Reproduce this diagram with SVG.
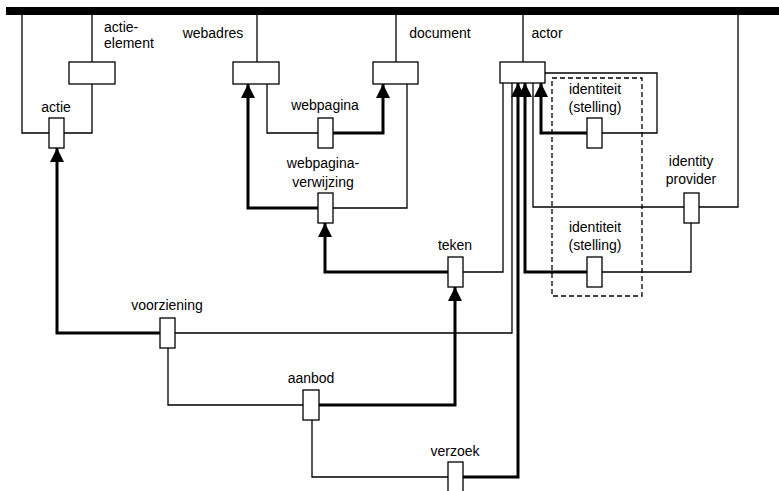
<svg xmlns="http://www.w3.org/2000/svg" width="779" height="491" viewBox="0 0 779 491">
<style>
.t{font-family:"Liberation Sans",Arial,sans-serif;font-size:14px;fill:#000}
.m{text-anchor:middle}
.thin{fill:none;stroke:#000;stroke-width:1.3}
.thick{fill:none;stroke:#000;stroke-width:3}
.arr{marker-end:url(#ah)}
.box{fill:#fff;stroke:#000;stroke-width:1.3}
.dash{fill:none;stroke:#000;stroke-width:1.3;stroke-dasharray:5 3}
</style>
<defs>
<marker id="ah" viewBox="0 0 14 14" refX="14" refY="7" markerWidth="14" markerHeight="14" markerUnits="userSpaceOnUse" orient="auto"><path d="M0,0 L14,7 L0,14 z" fill="#000"/></marker>
</defs>
<rect x="0" y="0" width="779" height="491" fill="#fff"/>
<g id="connectors">
<path class="thin" d="M22,15 V133 H92 V84"/>
<path class="thin" d="M92,15 V62"/>
<path class="thin" d="M257,15 V62"/>
<path class="thin" d="M396,15 V62"/>
<path class="thin" d="M523,15 V62"/>
<path class="thin" d="M738,15 V207 H533 V83"/>
<path class="thin" d="M267,84 V133 H318"/>
<path class="thick arr" d="M333,133 H383 V84"/>
<path class="thin" d="M333,208 H407 V84"/>
<path class="thick arr" d="M318,208 H248 V84"/>
<path class="thick arr" d="M448,272 H325 V223"/>
<path class="thin" d="M463,272 H503 V83"/>
<path class="thin" d="M545,73 H657 V133 H602"/>
<path class="thick arr" d="M587,133 H541 V83"/>
<path class="thick arr" d="M587,272 H525 V83"/>
<path class="thin" d="M602,272 H691 V223"/>
<path class="thick arr" d="M160,333 H57 V148"/>
<path class="thin" d="M175,333 H512 V83"/>
<path class="thin" d="M168,348 V405 H303"/>
<path class="thick arr" d="M319,405 H455 V287"/>
<path class="thin" d="M312,420 V477 H448"/>
<path class="thick arr" d="M463,477 H518 V83"/>
</g>
<rect id="bar" x="6" y="7" width="773" height="8" fill="#000"/>
<rect class="dash" x="552" y="78" width="90" height="218"/>
<g id="actie-element"><rect class="box" x="69" y="62" width="46" height="22"/><text class="t" x="104" y="32">actie-</text><text class="t" x="104" y="48">element</text></g>
<g id="actie"><rect class="box" x="49" y="118" width="15" height="30"/><text class="t m" x="56" y="112">actie</text></g>
<g id="webadres"><rect class="box" x="233" y="62" width="46" height="22"/><text class="t m" x="213" y="38">webadres</text></g>
<g id="document"><rect class="box" x="373" y="62" width="45" height="22"/><text class="t m" x="440" y="38">document</text></g>
<g id="actor"><rect class="box" x="500" y="62" width="45" height="21"/><text class="t m" x="547" y="38">actor</text></g>
<g id="webpagina"><rect class="box" x="318" y="118" width="15" height="30"/><text class="t m" x="325" y="110">webpagina</text></g>
<g id="webpagina-verwijzing"><rect class="box" x="318" y="193" width="15" height="30"/><text class="t m" x="323" y="168">webpagina-</text><text class="t m" x="323" y="187">verwijzing</text></g>
<g id="identiteit-1"><rect class="box" x="587" y="118" width="15" height="30"/><text class="t m" x="595" y="94">identiteit</text><text class="t m" x="595" y="112">(stelling)</text></g>
<g id="identity-provider"><rect class="box" x="684" y="193" width="15" height="30"/><text class="t m" x="691" y="166">identity</text><text class="t m" x="691" y="184">provider</text></g>
<g id="identiteit-2"><rect class="box" x="587" y="257" width="15" height="30"/><text class="t m" x="595" y="232">identiteit</text><text class="t m" x="595" y="250">(stelling)</text></g>
<g id="teken"><rect class="box" x="448" y="257" width="15" height="30"/><text class="t m" x="455" y="250">teken</text></g>
<g id="voorziening"><rect class="box" x="160" y="318" width="15" height="30"/><text class="t m" x="167" y="310">voorziening</text></g>
<g id="aanbod"><rect class="box" x="303" y="390" width="16" height="30"/><text class="t m" x="311" y="383">aanbod</text></g>
<g id="verzoek"><rect class="box" x="448" y="462" width="15" height="32"/><text class="t m" x="455" y="456">verzoek</text></g>
</svg>
